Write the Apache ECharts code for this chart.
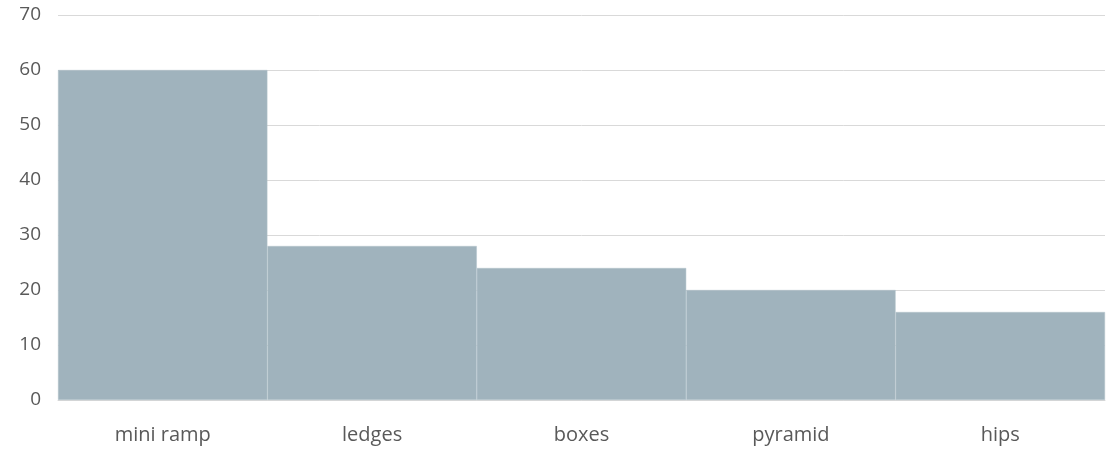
<!DOCTYPE html>
<html>
<head>
<meta charset="utf-8">
<script src="https://cdn.jsdelivr.net/npm/echarts@6/dist/echarts.min.js"></script>
<style>html,body{margin:0;padding:0;background:#fff}#c{width:1107px;height:451px}</style>
</head>
<body>
<div id="c"></div>
<script>
const categories = ['mini ramp', 'ledges', 'boxes', 'pyramid', 'hips'];
const values = [60, 28, 24, 20, 16];
const yTicks = { min: 0, max: 70, interval: 10 };

const chart = echarts.init(document.getElementById('c'), null, { renderer: 'canvas' });
chart.setOption({
  animation: false,
  grid: { left: 58, right: 2, top: 15, bottom: 51, containLabel: false },
  xAxis: {
    type: 'category',
    data: categories,
    axisLine: { show: true, lineStyle: { color: '#d9d9d9', width: 1 } },
    axisTick: { show: false },
    axisLabel: { color: '#595959', fontSize: 20, fontFamily: 'Open Sans', margin: 25 }
  },
  yAxis: {
    type: 'value',
    min: yTicks.min, max: yTicks.max, interval: yTicks.interval,
    axisLine: { show: false },
    axisTick: { show: false },
    splitLine: { lineStyle: { color: '#d9d9d9', width: 1 } },
    axisLabel: { color: '#595959', fontSize: 19, fontFamily: 'Open Sans', margin: 17 }
  },
  series: [{
    type: 'bar',
    data: values,
    barCategoryGap: '0%',
    itemStyle: { color: '#a0b3bd', borderColor: '#b4c4cc', borderWidth: 0.5 }
  }]
});
</script>
</body>
</html>
